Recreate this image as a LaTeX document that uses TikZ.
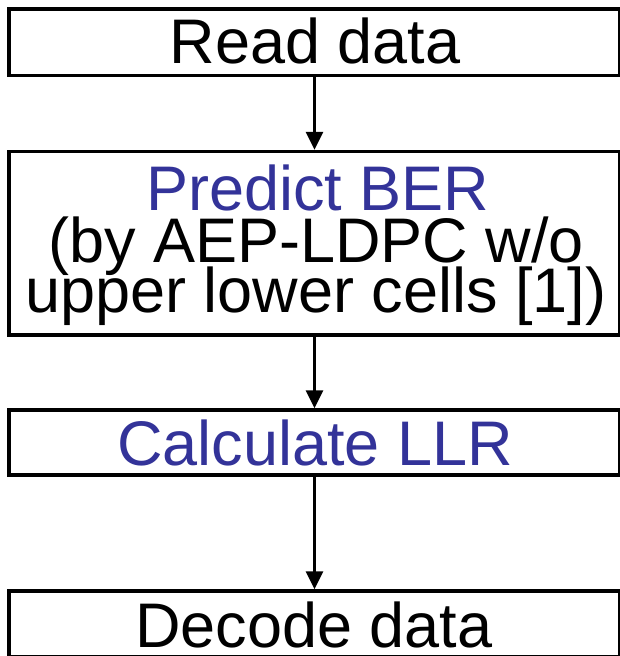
\documentclass[tikz,border=0pt]{standalone}
\usepackage{fontspec}
\setmainfont{Liberation Sans}
\usetikzlibrary{arrows.meta}
\definecolor{bluetxt}{RGB}{51,51,153}
\begin{document}
\begin{tikzpicture}[x=1pt,y=-1pt,
  flowbox/.style={draw=black,line width=3.5pt,fill=white,inner sep=0pt,
    minimum width=611pt},
  flowtext/.style={anchor=base,inner sep=0pt,font=\fontsize{63}{63}\selectfont},
  flowarrow/.style={line width=3pt,-{Triangle[length=18pt,width=17pt]}}]
\useasboundingbox (0,0) rectangle (620,656);
\node[flowbox,minimum height=66.5pt] (b1) at (314.5,42.25) {};
\node[flowbox,minimum height=183.5pt] (b2) at (314.5,243.25) {};
\node[flowbox,minimum height=65pt] (b3) at (314.5,442.5) {};
\node[flowbox,minimum height=66pt] (b4) at (314.5,624) {};
\node[flowtext] (t1) at (315,63) {Read data};
\node[flowtext,text=bluetxt] (t2a) at (318,210) {Predict BER};
\node[flowtext] (t2b) at (316,262) {(by AEP-LDPC w/o};
\node[flowtext] (t2c) at (316,312) {upper lower cells [1])};
\node[flowtext,text=bluetxt] (t3) at (315,465) {Calculate LLR};
\node[flowtext] (t4) at (314,647) {Decode data};
\draw[flowarrow] (b1.south) -- (b2.north);
\draw[flowarrow] (b2.south) -- (b3.north);
\draw[flowarrow] (b3.south) -- (b4.north);
\end{tikzpicture}
\end{document}
